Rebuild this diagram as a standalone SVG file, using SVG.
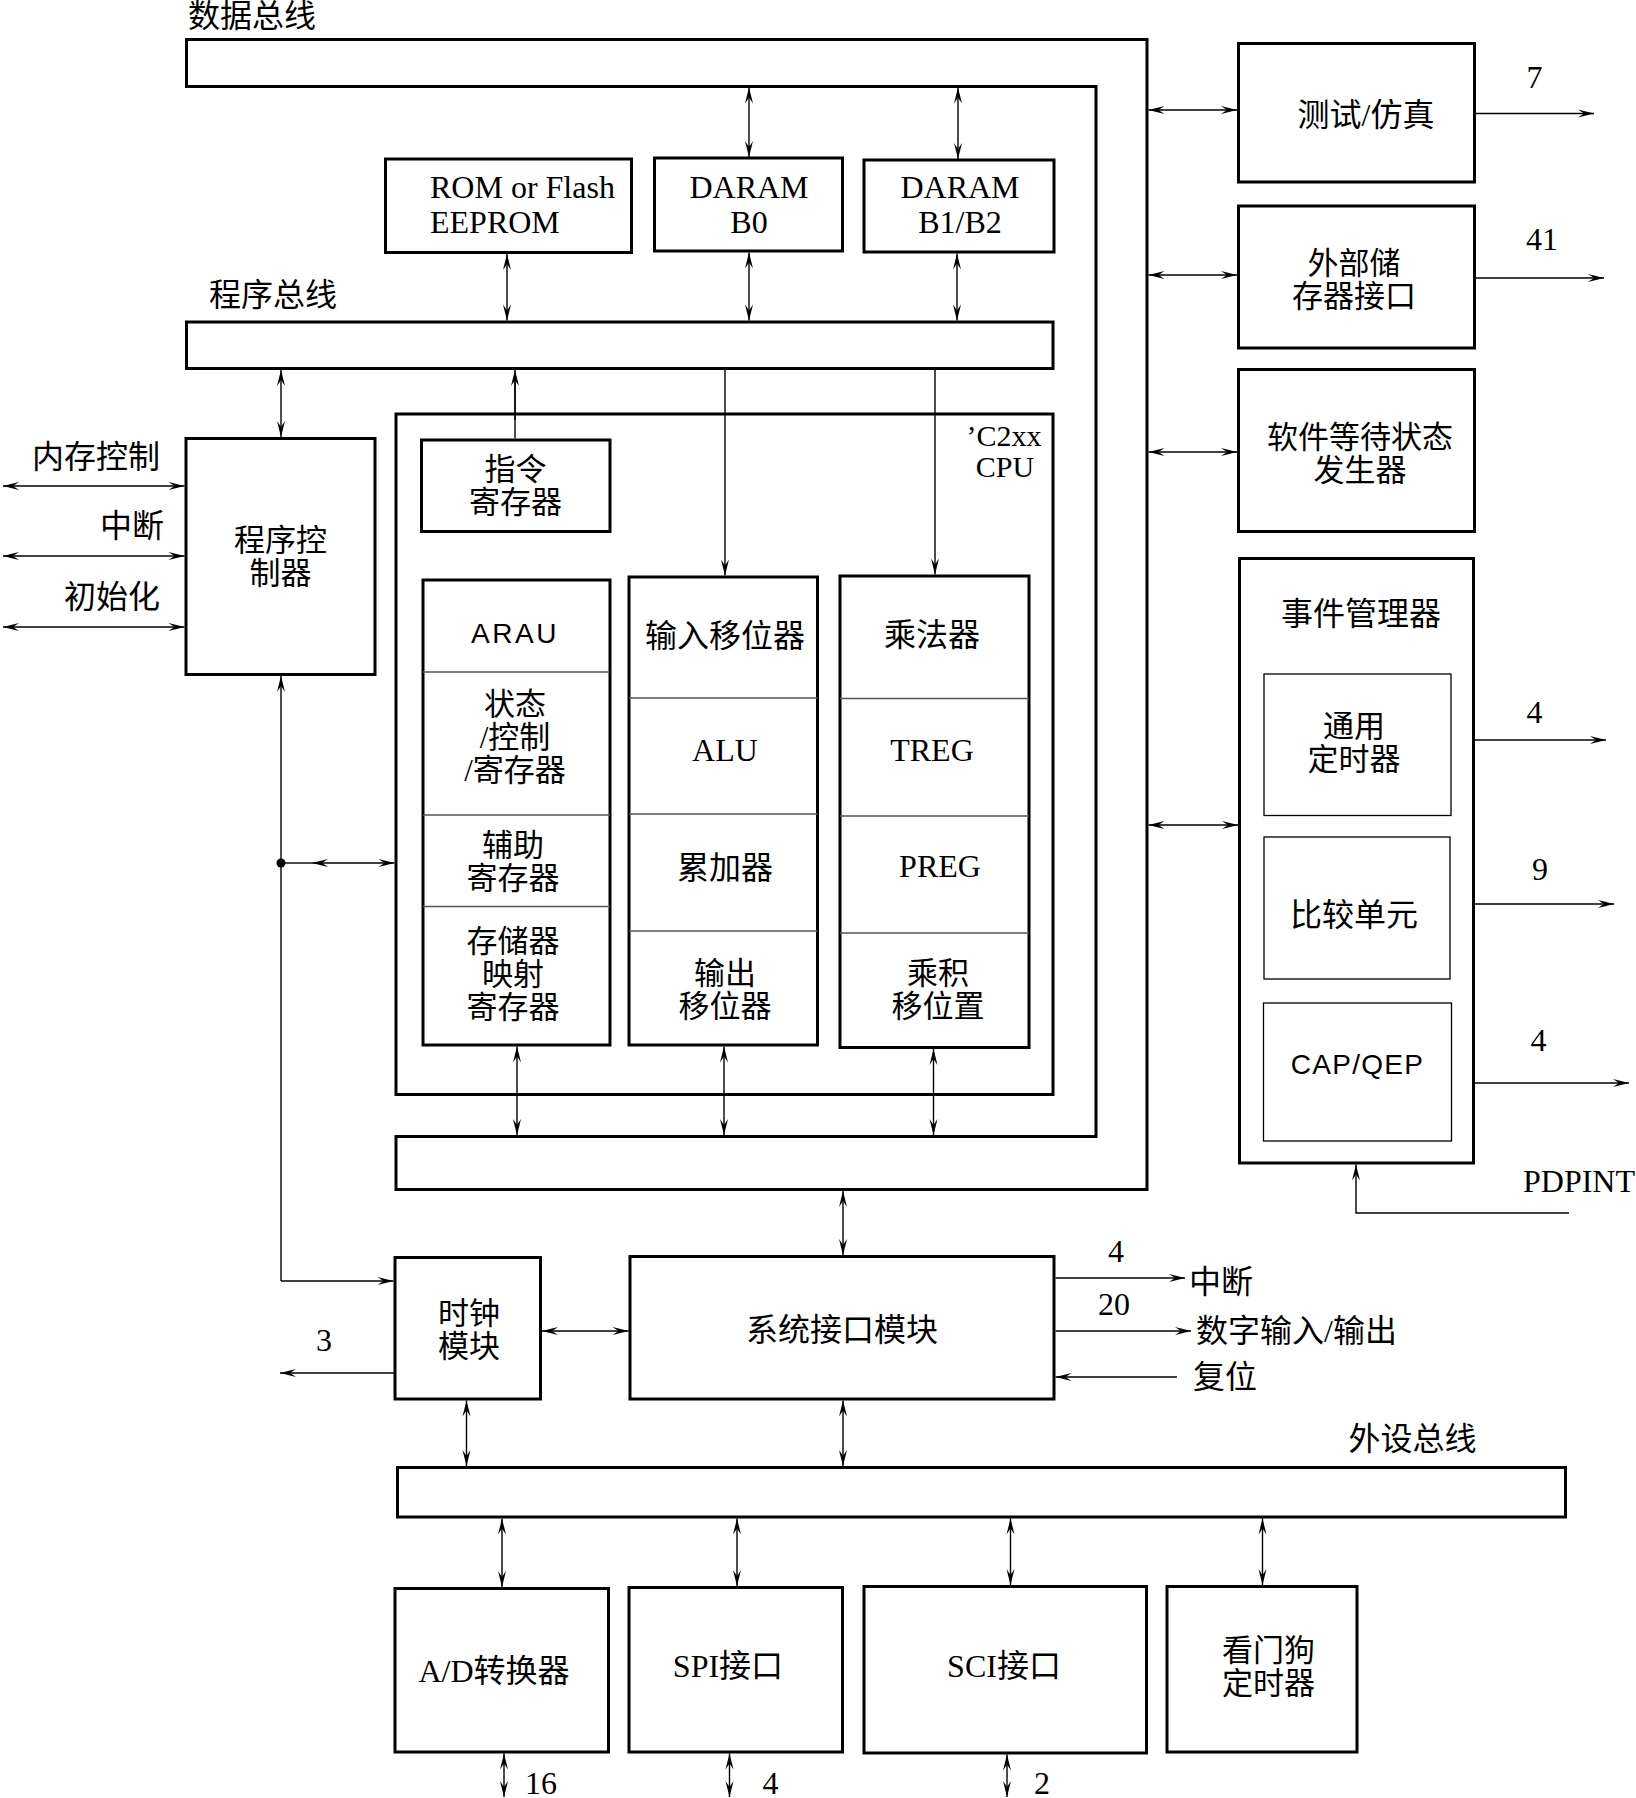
<svg xmlns="http://www.w3.org/2000/svg" width="1636" height="1798" viewBox="0 0 1636 1798">
<defs>
<marker id="ah" viewBox="-18 -6 20 12" refX="0" refY="0" markerWidth="20" markerHeight="12" markerUnits="userSpaceOnUse" orient="auto-start-reverse">
<path d="M0,0 L-16,-4 L-10,0 L-16,4 Z" fill="#000"/>
</marker>
<style>
.b{fill:#fff;stroke:#000;stroke-width:3}
.t{fill:none;stroke:#000;stroke-width:1.3}
.d{stroke:#555;stroke-width:1.3}
.c{fill:none;stroke:#000;stroke-width:1.4}
.bi{marker-start:url(#ah);marker-end:url(#ah)}
.one{marker-end:url(#ah)}
text{font-family:"Liberation Serif","Noto Sans CJK SC",serif;font-size:32px;fill:#000;dominant-baseline:central}
.m{text-anchor:middle}
.ml{font-size:31px}
.s{font-family:"Liberation Sans","Noto Sans CJK SC",sans-serif;font-size:28px}
</style>
</defs>
<rect width="1636" height="1798" fill="#fff"/>

<g id="data-bus">
<polygon class="b" points="186.5,39.5 1147,39.5 1147,1189.5 396,1189.5 396,1136.5 1096,1136.5 1096,86.5 186.5,86.5"/>
<text x="188" y="16">数据总线</text>
</g>

<g id="program-bus">
<rect class="b" x="186.5" y="322" width="866.5" height="46.5"/>
<text x="209" y="295">程序总线</text>
</g>

<g id="rom">
<rect class="b" x="385.5" y="159" width="246" height="93.5"/>
<text x="430" y="187">ROM or Flash</text>
<text x="430" y="222">EEPROM</text>
</g>

<g id="daram-b0">
<rect class="b" x="654.5" y="158" width="188" height="93"/>
<text class="m" x="749" y="187">DARAM</text>
<text class="m" x="749" y="222">B0</text>
</g>

<g id="daram-b1b2">
<rect class="b" x="864" y="160" width="190" height="92"/>
<text class="m" x="960" y="187">DARAM</text>
<text class="m" x="960" y="222">B1/B2</text>
</g>

<g id="cpu">
<rect class="b" x="396" y="414" width="657" height="680.5"/>
<text class="m" x="1004" y="435" style="font-size:30px">’C2xx</text>
<text class="m" x="1005" y="466" style="font-size:30px">CPU</text>
</g>

<g id="program-controller">
<rect class="b" x="186" y="438.5" width="189" height="236"/>
<text class="m ml" x="280.5" y="540.5">程序控</text>
<text class="m ml" x="280.5" y="573.5">制器</text>
</g>

<g id="instruction-register">
<rect class="b" x="421.5" y="440" width="188.5" height="91.5"/>
<text class="m ml" x="515.5" y="469">指令</text>
<text class="m ml" x="515.5" y="502">寄存器</text>
</g>

<g id="cpu-col-left">
<rect class="b" x="423" y="580" width="187" height="465"/>
<line class="d" x1="423" y1="672" x2="610" y2="672"/>
<line class="d" x1="423" y1="815" x2="610" y2="815"/>
<line class="d" x1="423" y1="906.5" x2="610" y2="906.5"/>
<text class="m s" x="515" y="633" style="letter-spacing:2.5px">ARAU</text>
<text class="m ml" x="515" y="704">状态</text>
<text class="m ml" x="515" y="737">/控制</text>
<text class="m ml" x="515" y="770">/寄存器</text>
<text class="m ml" x="513" y="845">辅助</text>
<text class="m ml" x="513" y="878">寄存器</text>
<text class="m ml" x="513" y="941">存储器</text>
<text class="m ml" x="513" y="974">映射</text>
<text class="m ml" x="513" y="1007">寄存器</text>
</g>

<g id="cpu-col-mid">
<rect class="b" x="629" y="577" width="188.5" height="468"/>
<line class="d" x1="629" y1="698" x2="817.5" y2="698"/>
<line class="d" x1="629" y1="814" x2="817.5" y2="814"/>
<line class="d" x1="629" y1="931" x2="817.5" y2="931"/>
<text class="m" x="725" y="636">输入移位器</text>
<text class="m" x="725" y="749.5">ALU</text>
<text class="m" x="725" y="868">累加器</text>
<text class="m ml" x="725" y="973.5">输出</text>
<text class="m ml" x="725" y="1006.5">移位器</text>
</g>

<g id="cpu-col-right">
<rect class="b" x="840" y="576" width="189" height="471.5"/>
<line class="d" x1="840" y1="698.5" x2="1029" y2="698.5"/>
<line class="d" x1="840" y1="816" x2="1029" y2="816"/>
<line class="d" x1="840" y1="933" x2="1029" y2="933"/>
<text class="m" x="932" y="635">乘法器</text>
<text class="m" x="932" y="750">TREG</text>
<text class="m" x="940" y="866">PREG</text>
<text class="m ml" x="938" y="973">乘积</text>
<text class="m ml" x="938" y="1006">移位置</text>
</g>

<g id="test-emulation">
<rect class="b" x="1238.5" y="43.5" width="236" height="138.5"/>
<text class="m" x="1366" y="115">测试/仿真</text>
</g>

<g id="external-memory-interface">
<rect class="b" x="1238.5" y="206" width="236" height="142"/>
<text class="m ml" x="1354" y="263.5">外部储</text>
<text class="m ml" x="1354" y="296.5">存器接口</text>
</g>

<g id="wait-state-generator">
<rect class="b" x="1238.5" y="369.5" width="236" height="162"/>
<text class="m ml" x="1360" y="437">软件等待状态</text>
<text class="m ml" x="1360" y="470">发生器</text>
</g>

<g id="event-manager">
<rect class="b" x="1239.5" y="558.5" width="234" height="604.5"/>
<text class="m" x="1361" y="614">事件管理器</text>
<rect class="t" x="1264" y="674" width="187" height="141.5"/>
<text class="m ml" x="1354" y="726.5">通用</text>
<text class="m ml" x="1354" y="759.5">定时器</text>
<rect class="t" x="1264" y="837" width="186" height="142"/>
<text class="m" x="1354" y="915">比较单元</text>
<rect class="t" x="1263.5" y="1003" width="188" height="138"/>
<text class="m s" x="1357.5" y="1064.5" style="letter-spacing:1.3px">CAP/QEP</text>
</g>

<g id="clock-module">
<rect class="b" x="395" y="1257.5" width="145.5" height="141.5"/>
<text class="m ml" x="469" y="1313">时钟</text>
<text class="m ml" x="469" y="1346">模块</text>
</g>

<g id="system-interface">
<rect class="b" x="630" y="1256.5" width="424" height="142.5"/>
<text class="m" x="842" y="1330">系统接口模块</text>
</g>

<g id="peripheral-bus">
<rect class="b" x="397.5" y="1467.5" width="1168" height="49.5"/>
<text x="1348.5" y="1439">外设总线</text>
</g>

<g id="adc">
<rect class="b" x="395" y="1588.5" width="213.5" height="163.5"/>
<text class="m" x="494" y="1671">A/D转换器</text>
</g>

<g id="spi">
<rect class="b" x="629" y="1587.5" width="213.5" height="164.5"/>
<text class="m" x="728" y="1666">SPI接口</text>
</g>

<g id="sci">
<rect class="b" x="864" y="1586.5" width="282.5" height="166.5"/>
<text class="m" x="1004" y="1666">SCI接口</text>
</g>

<g id="watchdog">
<rect class="b" x="1167" y="1586.5" width="190" height="165.5"/>
<text class="m ml" x="1268.5" y="1650">看门狗</text>
<text class="m ml" x="1268.5" y="1683">定时器</text>
</g>

<g id="connectors">
<line class="c bi" x1="749" y1="87.5" x2="749" y2="157"/>
<line class="c bi" x1="958" y1="87.5" x2="958" y2="159"/>
<line class="c bi" x1="507" y1="254" x2="507" y2="320.5"/>
<line class="c bi" x1="749" y1="252.5" x2="749" y2="320.5"/>
<line class="c bi" x1="957" y1="253.5" x2="957" y2="320.5"/>
<line class="c bi" x1="281" y1="370" x2="281" y2="437"/>
<line class="c bi" x1="3" y1="486" x2="184.5" y2="486"/>
<line class="c bi" x1="3" y1="556" x2="184.5" y2="556"/>
<line class="c bi" x1="3" y1="627" x2="184.5" y2="627"/>
<line class="c" x1="515" y1="438.5" x2="515" y2="380"/>
<line class="c one" x1="515" y1="420" x2="515" y2="370"/>
<line class="c one" x1="725" y1="368.5" x2="725" y2="575.5"/>
<line class="c one" x1="935" y1="368.5" x2="935" y2="574.5"/>
<path class="c one" d="M281,1281 L281,676"/>
<path class="c one" d="M281,1281 L393.5,1281"/>
<circle cx="281" cy="863" r="4.5" fill="#000"/>
<line class="c" x1="281" y1="863" x2="312" y2="863"/>
<line class="c bi" x1="312" y1="863" x2="394.5" y2="863"/>
<line class="c bi" x1="517" y1="1046.5" x2="517" y2="1135"/>
<line class="c bi" x1="724" y1="1046.5" x2="724" y2="1135"/>
<line class="c bi" x1="933.5" y1="1049" x2="933.5" y2="1135"/>
<line class="c bi" x1="1148.5" y1="110" x2="1237" y2="110"/>
<line class="c bi" x1="1148.5" y1="275" x2="1237" y2="275"/>
<line class="c bi" x1="1148.5" y1="452" x2="1237" y2="452"/>
<line class="c bi" x1="1148.5" y1="825" x2="1238" y2="825"/>
<line class="c one" x1="1476" y1="113.5" x2="1594" y2="113.5"/>
<line class="c one" x1="1476" y1="278" x2="1604" y2="278"/>
<line class="c one" x1="1475" y1="740" x2="1606" y2="740"/>
<line class="c one" x1="1475" y1="904" x2="1614" y2="904"/>
<line class="c one" x1="1475" y1="1083" x2="1629" y2="1083"/>
<path class="c one" d="M1569,1213 L1356,1213 L1356,1164.5"/>
<line class="c bi" x1="843" y1="1191" x2="843" y2="1255"/>
<line class="c bi" x1="542" y1="1331" x2="628.5" y2="1331"/>
<line class="c one" x1="395" y1="1373" x2="280" y2="1373"/>
<line class="c one" x1="1055.5" y1="1278" x2="1185" y2="1278"/>
<line class="c one" x1="1055.5" y1="1331" x2="1191" y2="1331"/>
<line class="c one" x1="1177" y1="1377" x2="1055.5" y2="1377"/>
<line class="c bi" x1="843" y1="1400.5" x2="843" y2="1466"/>
<line class="c bi" x1="466.5" y1="1400.5" x2="466.5" y2="1466"/>
<line class="c bi" x1="502" y1="1518.5" x2="502" y2="1587"/>
<line class="c bi" x1="737" y1="1518.5" x2="737" y2="1586"/>
<line class="c bi" x1="1010.5" y1="1518.5" x2="1010.5" y2="1585"/>
<line class="c bi" x1="1262.5" y1="1518.5" x2="1262.5" y2="1585"/>
<line class="c bi" x1="504" y1="1753.5" x2="504" y2="1797"/>
<line class="c bi" x1="729.5" y1="1753.5" x2="729.5" y2="1797"/>
<line class="c bi" x1="1007" y1="1754.5" x2="1007" y2="1797"/>
</g>

<g id="labels">
<text x="32" y="457">内存控制</text>
<text x="100" y="526">中断</text>
<text x="64" y="597">初始化</text>
<text class="m" x="1534.5" y="77">7</text>
<text class="m" x="1542" y="238.5">41</text>
<text class="m" x="1534.5" y="712">4</text>
<text class="m" x="1540" y="869">9</text>
<text class="m" x="1538.5" y="1040">4</text>
<text x="1523" y="1181">PDPINT</text>
<text class="m" x="324" y="1340">3</text>
<text class="m" x="1116" y="1251">4</text>
<text x="1189" y="1282">中断</text>
<text class="m" x="1114" y="1303.5">20</text>
<text x="1196" y="1330.5">数字输入/输出</text>
<text x="1193" y="1377">复位</text>
<text class="m" x="541" y="1783">16</text>
<text class="m" x="770.5" y="1783">4</text>
<text class="m" x="1042" y="1783">2</text>
</g>
</svg>
